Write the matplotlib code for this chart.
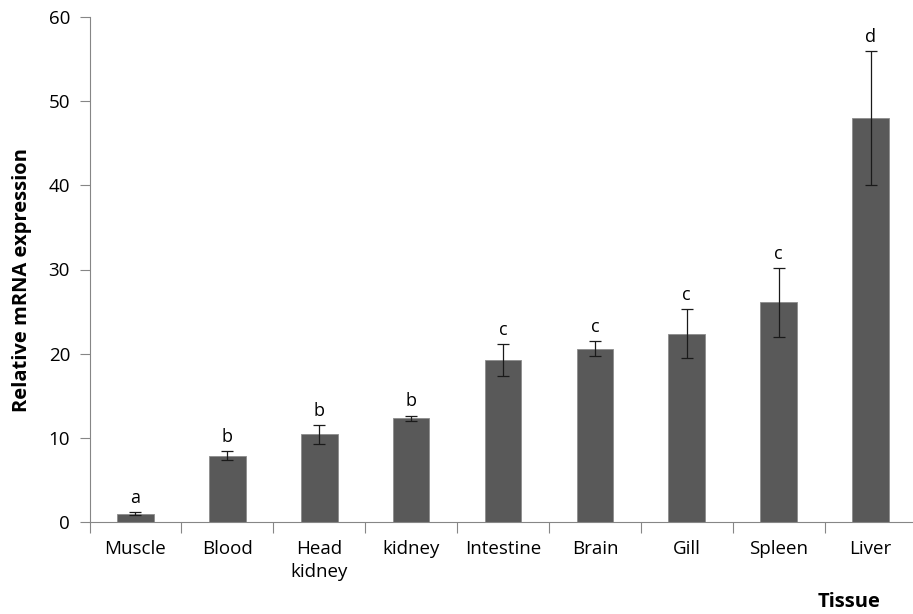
import matplotlib
matplotlib.use("Agg")
import matplotlib.pyplot as plt
import numpy as np

plt.rcParams['font.family'] = ['Open Sans', 'DejaVu Sans']

tissues = ['Muscle', 'Blood', 'Head\nkidney', 'kidney', 'Intestine',
           'Brain', 'Gill', 'Spleen', 'Liver']
expression = [1.0, 7.9, 10.4, 12.35, 19.3, 20.6, 22.35, 26.1, 48.0]
sd = [0.15, 0.5, 1.15, 0.3, 1.9, 0.85, 2.9, 4.1, 7.95]
groups = ['a', 'b', 'b', 'b', 'c', 'c', 'c', 'c', 'd']

fig = plt.figure(figsize=(9.13, 6.14), dpi=100)
ax = fig.add_axes([89.5 / 913, 92 / 614, 827 / 913, 505 / 614])

x = np.arange(len(tissues))
ax.bar(x, expression, width=0.4, color='#595959', edgecolor='#8c8c8c',
       linewidth=0.6, zorder=2)
ax.errorbar(x, expression, yerr=sd, fmt='none', ecolor='#1a1a1a',
            elinewidth=0.9, capsize=4.5, capthick=0.9, zorder=3)

# significance letters sit just above each error bar
for xi, m, s, g in zip(x, expression, sd, groups):
    ax.text(xi, m + s + 0.6, g, ha='center', va='bottom', fontsize=13)

ax.set_xlim(-0.5, len(tissues) - 0.5)
ax.set_ylim(0, 60)
ax.set_yticks(range(0, 61, 10))
ax.set_xticks(x)
ax.set_xticklabels(tissues, fontsize=13.5, linespacing=1.35)
ax.set_xticks(np.arange(-0.5, len(tissues), 1), minor=True)
ax.tick_params(axis='x', which='major', length=0, pad=13)
ax.tick_params(axis='x', which='minor', length=8, color='#868686', width=0.8)
ax.tick_params(axis='y', length=7, color='#868686', width=0.8, labelsize=13.5, pad=7)

for side in ['top', 'right']:
    ax.spines[side].set_visible(False)
for side in ['left', 'bottom']:
    ax.spines[side].set_color('#868686')
    ax.spines[side].set_linewidth(0.8)

fig.text(22 / 913, 1 - 280 / 614, 'Relative mRNA expression', ha='center', va='center',
         rotation=90, fontsize=14.5, fontweight='bold')
fig.text(849 / 913, 1 - 602 / 614, 'Tissue', ha='center', va='center',
         fontsize=14.5, fontweight='bold')

fig.savefig('out.png', dpi=100)
